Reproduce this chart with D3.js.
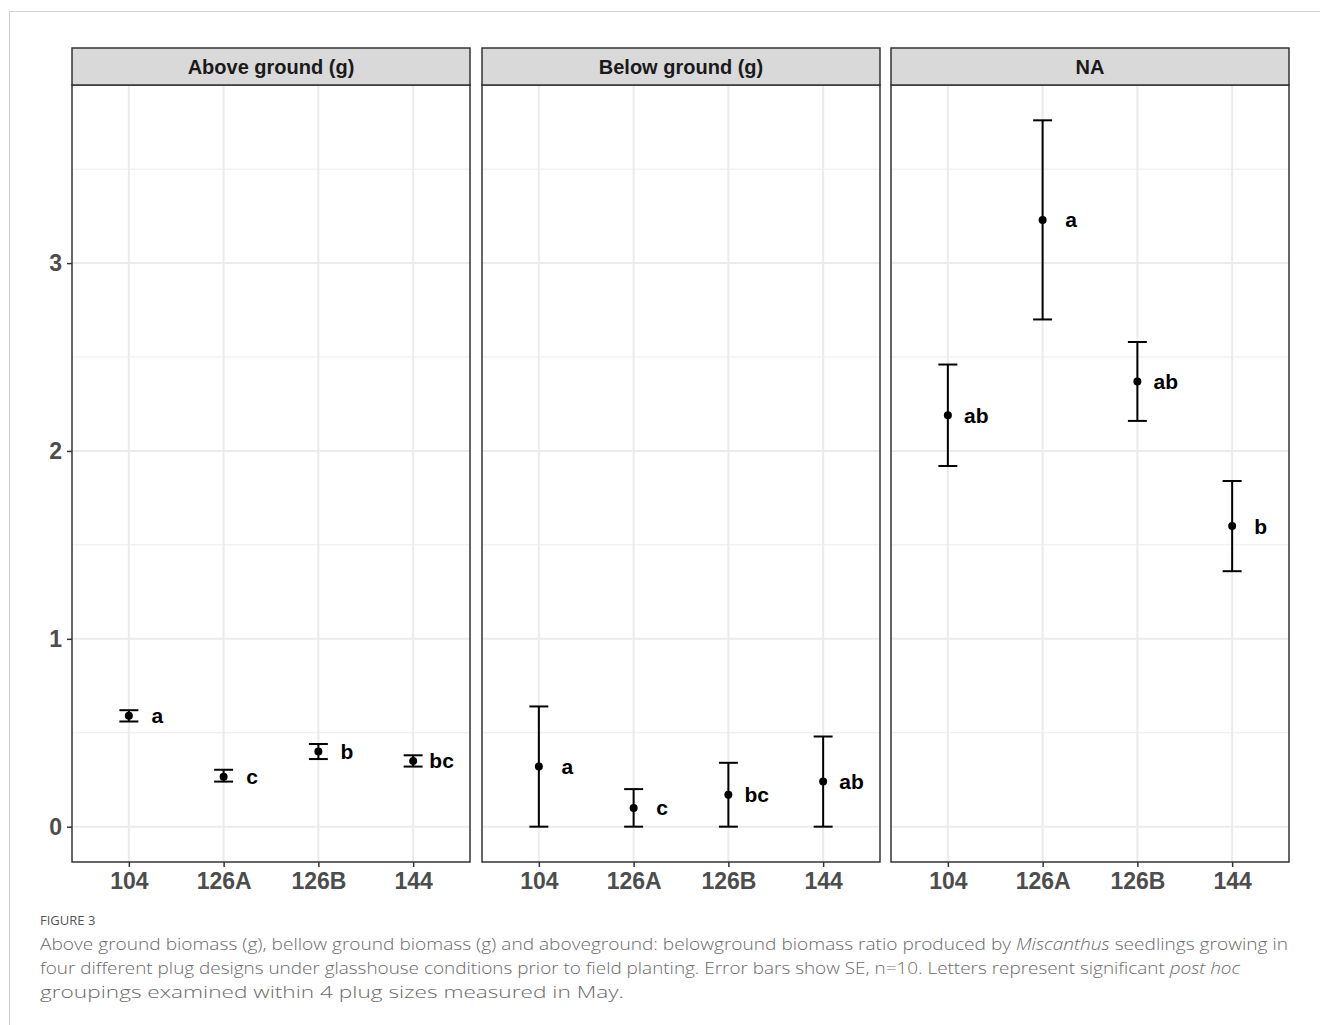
<!DOCTYPE html>
<html><head><meta charset="utf-8">
<script src="https://cdn.jsdelivr.net/npm/d3@7"></script>
<style>body{margin:0;background:#fff}svg{display:block}</style>
</head><body>
<svg id="chart" width="1320" height="1025"></svg>
<script>
const panels = ["Above ground (g)", "Below ground (g)", "NA"];
const categories = ["104", "126A", "126B", "144"];
const yTicks = [0, 1, 2, 3];
// mean, lower, upper, letter per panel
const aboveMean = [0.59, 0.266, 0.40, 0.35];
const aboveLow  = [0.56, 0.24, 0.36, 0.32];
const aboveHigh = [0.62, 0.303, 0.44, 0.38];
const aboveLet  = ["a", "c", "b", "bc"];
const belowMean = [0.32, 0.10, 0.17, 0.24];
const belowLow  = [0, 0, 0, 0];
const belowHigh = [0.64, 0.20, 0.34, 0.48];
const belowLet  = ["a", "c", "bc", "ab"];
const ratioMean = [2.19, 3.23, 2.37, 1.60];
const ratioLow  = [1.92, 2.70, 2.16, 1.36];
const ratioHigh = [2.46, 3.76, 2.58, 1.84];
const ratioLet  = ["ab", "a", "ab", "b"];

const series = [
  {mean: aboveMean, low: aboveLow, high: aboveHigh, lets: aboveLet},
  {mean: belowMean, low: belowLow, high: belowHigh, lets: belowLet},
  {mean: ratioMean, low: ratioLow, high: ratioHigh, lets: ratioLet}
];

const svg = d3.select("#chart");
// outer frame
svg.append("rect").attr("x", 9.5).attr("y", 11.5).attr("width", 1400).attr("height", 1100)
  .attr("fill", "none").attr("stroke", "#d0d0d0").attr("stroke-width", 1);

const panelLeft = [72, 482, 891], panelW = 398;
const stripTop = 48, stripH = 37, plotTop = 85, plotBottom = 862;
const allHigh = d3.max(series.flatMap(s => s.high));
const ext = allHigh * 0.05;
const y = d3.scaleLinear().domain([0 - ext, allHigh + ext]).range([plotBottom, plotTop]);
const font = "'Liberation Sans', Arial, sans-serif";

series.forEach((s, pi) => {
  const L = panelLeft[pi];
  const x = d3.scalePoint().domain(categories).range([L, L + panelW]).padding(0.6);
  const step = x.step();
  const g = svg.append("g");
  // grid minor
  const minor = d3.range(0.5, allHigh + ext, 1);
  g.selectAll(".minor").data(minor).join("line")
    .attr("x1", L).attr("x2", L + panelW).attr("y1", d => y(d)).attr("y2", d => y(d))
    .attr("stroke", "#ebebeb").attr("stroke-width", 1);
  g.selectAll(".majory").data(yTicks).join("line")
    .attr("x1", L).attr("x2", L + panelW).attr("y1", d => y(d)).attr("y2", d => y(d))
    .attr("stroke", "#ebebeb").attr("stroke-width", 2);
  g.selectAll(".majorx").data(categories).join("line")
    .attr("x1", d => x(d)).attr("x2", d => x(d)).attr("y1", plotTop).attr("y2", plotBottom)
    .attr("stroke", "#ebebeb").attr("stroke-width", 2);
  // error bars
  const data = categories.map((c, i) => ({c, m: s.mean[i], lo: s.low[i], hi: s.high[i], t: s.lets[i]}));
  const capW = step * 0.2;
  const eg = g.selectAll(".eb").data(data).join("g");
  eg.append("line").attr("x1", d => x(d.c)).attr("x2", d => x(d.c))
    .attr("y1", d => y(d.lo)).attr("y2", d => y(d.hi)).attr("stroke", "#000").attr("stroke-width", 2);
  eg.append("line").attr("x1", d => x(d.c) - capW / 2).attr("x2", d => x(d.c) + capW / 2)
    .attr("y1", d => y(d.lo)).attr("y2", d => y(d.lo)).attr("stroke", "#000").attr("stroke-width", 2);
  eg.append("line").attr("x1", d => x(d.c) - capW / 2).attr("x2", d => x(d.c) + capW / 2)
    .attr("y1", d => y(d.hi)).attr("y2", d => y(d.hi)).attr("stroke", "#000").attr("stroke-width", 2);
  eg.append("circle").attr("cx", d => x(d.c)).attr("cy", d => y(d.m)).attr("r", 4).attr("fill", "#000");
  eg.append("text").attr("x", d => x(d.c) + step * 0.3).attr("y", d => y(d.m))
    .attr("dy", "0.36em").attr("text-anchor", "middle")
    .attr("font-family", font).attr("font-weight", "bold").attr("font-size", 21)
    .attr("fill", "#000").text(d => d.t);
  // panel border
  g.append("rect").attr("x", L).attr("y", plotTop).attr("width", panelW).attr("height", plotBottom - plotTop)
    .attr("fill", "none").attr("stroke", "#333").attr("stroke-width", 1.5);
  // strip
  g.append("rect").attr("x", L).attr("y", stripTop).attr("width", panelW).attr("height", stripH)
    .attr("fill", "#d9d9d9").attr("stroke", "#333").attr("stroke-width", 1.5);
  g.append("text").attr("x", L + panelW / 2).attr("y", stripTop + stripH / 2).attr("dy", "0.36em")
    .attr("text-anchor", "middle").attr("font-family", font).attr("font-weight", "bold")
    .attr("font-size", 20).attr("fill", "#1a1a1a").text(panels[pi]);
  // x axis
  const xa = g.append("g").attr("transform", `translate(0,${plotBottom})`)
    .call(d3.axisBottom(x).tickSize(5).tickPadding(6));
  xa.select(".domain").remove();
  xa.selectAll("line").attr("stroke", "#333").attr("stroke-width", 1.5);
  xa.selectAll("text").attr("font-family", font).attr("font-weight", "bold")
    .attr("font-size", 23).attr("fill", "#4d4d4d");
  if (pi === 0) {
    const ya = g.append("g").attr("transform", `translate(${L},0)`)
      .call(d3.axisLeft(y).tickValues(yTicks).tickFormat(d3.format("d")).tickSize(5).tickPadding(5));
    ya.select(".domain").remove();
    ya.selectAll("line").attr("stroke", "#333").attr("stroke-width", 1.5);
    ya.selectAll("text").attr("font-family", font).attr("font-weight", "bold")
      .attr("font-size", 23).attr("fill", "#4d4d4d");
  }
});

// caption
const capFont = "'Open Sans', 'Noto Sans', sans-serif";
svg.append("text").attr("x", 40).attr("y", 925).attr("font-family", capFont)
  .attr("font-size", 13).attr("fill", "#555").text("FIGURE 3");
const captionLines = [
  [["Above ground biomass (g), bellow ground biomass (g) and aboveground: belowground biomass ratio produced by ", false], ["Miscanthus", true], [" seedlings growing in", false]],
  [["four different plug designs under glasshouse conditions prior to field planting. Error bars show SE, n=10. Letters represent significant ", false], ["post hoc", true]],
  [["groupings examined within 4 plug sizes measured in May.", false]]
];
const captionWidths = [1248, 1200, 584];
const captionY = [950, 974, 998];
captionLines.forEach((parts, i) => {
  const t = svg.append("text").attr("x", 40).attr("y", captionY[i]).attr("font-family", capFont)
    .attr("font-size", 17).attr("fill", "#6a6a6a").attr("font-weight", 300)
    .attr("textLength", captionWidths[i]).attr("lengthAdjust", "spacingAndGlyphs");
  parts.forEach(([s, it]) => t.append("tspan").attr("font-style", it ? "italic" : "normal").text(s));
});
</script>
</body></html>
